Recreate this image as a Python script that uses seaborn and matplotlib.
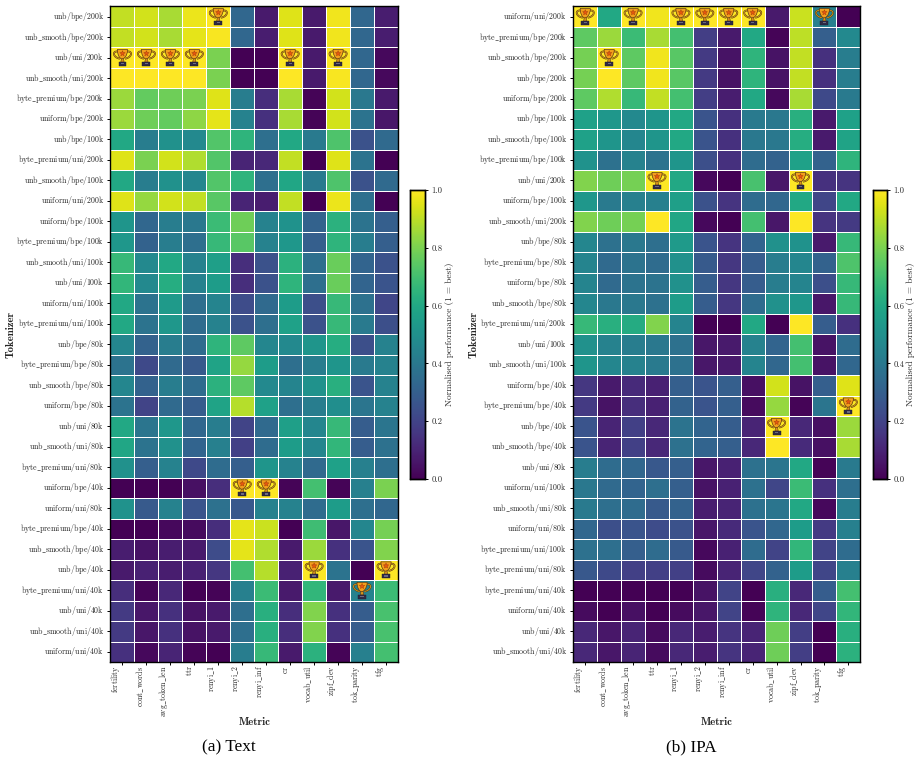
import numpy as np
import pandas as pd
import matplotlib
matplotlib.use("Agg")
import matplotlib.pyplot as plt
import seaborn as sns
from matplotlib.patches import PathPatch, Polygon, Rectangle
from matplotlib.path import Path
from matplotlib.transforms import Affine2D

metrics = ["fertility", "cont_words", "avg_token_len", "ttr", "renyi_1", "renyi_2",
           "renyi_inf", "cr", "vocab_util", "zipf_dev", "tok_parity", "tfg"]

text_tokenizers = [
    "unb/bpe/200k", "unb_smooth/bpe/200k", "unb/uni/200k", "unb_smooth/uni/200k",
    "byte_premium/bpe/200k", "uniform/bpe/200k", "unb/bpe/100k", "byte_premium/uni/200k",
    "unb_smooth/bpe/100k", "uniform/uni/200k", "uniform/bpe/100k", "byte_premium/bpe/100k",
    "unb_smooth/uni/100k", "unb/uni/100k", "uniform/uni/100k", "byte_premium/uni/100k",
    "unb/bpe/80k", "byte_premium/bpe/80k", "unb_smooth/bpe/80k", "uniform/bpe/80k",
    "unb/uni/80k", "unb_smooth/uni/80k", "byte_premium/uni/80k", "uniform/bpe/40k",
    "uniform/uni/80k", "byte_premium/bpe/40k", "unb_smooth/bpe/40k", "unb/bpe/40k",
    "byte_premium/uni/40k", "unb/uni/40k", "unb_smooth/uni/40k", "uniform/uni/40k",
]

text_scores = [
    [.91, .93, .87, .97, 1.0, .33, .07, .95, .07, .98, .33, .08],
    [.91, .93, .87, .96, .99, .33, .08, .95, .07, .98, .33, .08],
    [1.0, 1.0, 1.0, 1.0, .80, .00, .00, 1.0, .07, 1.0, .33, .02],
    [1.0, 1.0, 1.0, 1.0, .80, .00, .00, 1.0, .07, .99, .33, .02],
    [.85, .76, .78, .80, .95, .42, .13, .87, .01, .93, .40, .07],
    [.85, .78, .76, .83, .96, .44, .14, .87, .01, .93, .38, .06],
    [.60, .42, .50, .47, .73, .65, .36, .60, .41, .72, .25, .34],
    [.95, .80, .93, .88, .73, .10, .11, .91, .00, .95, .38, .00],
    [.60, .42, .50, .46, .73, .65, .36, .59, .41, .72, .25, .34],
    [.95, .84, .93, .91, .74, .10, .08, .91, .00, .97, .36, .00],
    [.52, .33, .42, .40, .68, .78, .44, .51, .31, .64, .38, .30],
    [.53, .31, .42, .36, .67, .74, .44, .53, .30, .65, .42, .30],
    [.67, .47, .60, .44, .56, .13, .25, .64, .36, .77, .32, .25],
    [.66, .47, .62, .44, .55, .13, .25, .65, .36, .77, .32, .26],
    [.60, .38, .54, .36, .45, .23, .34, .55, .24, .67, .37, .21],
    [.60, .38, .53, .35, .44, .25, .36, .57, .25, .67, .41, .24],
    [.46, .31, .42, .35, .65, .75, .46, .47, .52, .62, .24, .44],
    [.38, .22, .34, .28, .58, .84, .55, .36, .42, .52, .41, .44],
    [.46, .31, .42, .35, .64, .75, .47, .45, .51, .63, .26, .44],
    [.38, .20, .34, .29, .58, .89, .57, .36, .42, .49, .39, .44],
    [.60, .39, .53, .33, .42, .20, .34, .56, .46, .67, .29, .39],
    [.59, .38, .50, .32, .43, .19, .35, .55, .46, .66, .29, .37],
    [.50, .30, .44, .22, .35, .30, .52, .44, .34, .57, .43, .36],
    [.00, .00, .00, .04, .13, 1.0, 1.0, .01, .70, .01, .43, .80],
    [.51, .28, .44, .26, .37, .27, .44, .44, .35, .55, .36, .33],
    [.00, .00, .02, .03, .13, .96, .92, .00, .69, .06, .46, .79],
    [.08, .05, .08, .07, .23, .96, .88, .07, .85, .14, .26, .81],
    [.07, .09, .08, .09, .16, .70, .89, .09, 1.0, .38, .00, 1.0],
    [.13, .01, .11, .00, .01, .43, .68, .07, .66, .07, .44, .68],
    [.17, .06, .14, .05, .07, .36, .63, .13, .81, .14, .29, .71],
    [.17, .06, .14, .05, .07, .36, .63, .13, .81, .14, .29, .71],
    [.14, .02, .10, .01, .00, .42, .67, .07, .64, .01, .43, .70],
]

text_best = [(0, 4), (2, 0), (2, 1), (2, 2), (2, 3), (2, 7), (2, 9),
             (23, 5), (23, 6), (27, 8), (27, 11), (28, 10)]

ipa_tokenizers = [
    "uniform/uni/200k", "byte_premium/bpe/200k", "unb_smooth/bpe/200k", "unb/bpe/200k",
    "uniform/bpe/200k", "unb/bpe/100k", "unb_smooth/bpe/100k", "byte_premium/bpe/100k",
    "unb/uni/200k", "uniform/bpe/100k", "unb_smooth/uni/200k", "unb/bpe/80k",
    "byte_premium/bpe/80k", "uniform/bpe/80k", "unb_smooth/bpe/80k", "byte_premium/uni/200k",
    "unb/uni/100k", "unb_smooth/uni/100k", "uniform/bpe/40k", "byte_premium/bpe/40k",
    "unb/bpe/40k", "unb_smooth/bpe/40k", "unb/uni/80k", "uniform/uni/100k",
    "unb_smooth/uni/80k", "uniform/uni/80k", "byte_premium/uni/100k", "byte_premium/uni/80k",
    "byte_premium/uni/40k", "uniform/uni/40k", "unb/uni/40k", "unb_smooth/uni/40k",
]

ipa_scores = [
    [1.0, .60, 1.0, .98, 1.0, 1.0, 1.0, 1.0, .07, .92, .43, .00],
    [.75, .85, .68, .87, .70, .18, .07, .60, .01, .90, .30, .47],
    [.79, 1.0, .75, .98, .74, .17, .05, .65, .05, .91, .14, .42],
    [.79, 1.0, .75, .98, .74, .17, .05, .65, .05, .91, .14, .42],
    [.75, .88, .67, .91, .70, .18, .08, .60, .02, .87, .22, .41],
    [.57, .53, .47, .52, .60, .26, .14, .41, .40, .63, .07, .57],
    [.57, .52, .46, .52, .60, .26, .14, .40, .40, .62, .07, .58],
    [.51, .37, .44, .38, .52, .24, .14, .35, .31, .57, .31, .65],
    [.81, .78, .79, 1.0, .60, .02, .00, .71, .06, 1.0, .14, .15],
    [.53, .41, .43, .43, .56, .25, .15, .35, .33, .60, .21, .60],
    [.81, .78, .79, 1.0, .59, .02, .00, .70, .06, 1.0, .15, .17],
    [.46, .37, .40, .36, .54, .26, .15, .32, .50, .51, .07, .67],
    [.45, .34, .38, .35, .50, .28, .16, .29, .42, .46, .31, .72],
    [.45, .34, .38, .38, .50, .29, .16, .29, .42, .45, .24, .67],
    [.46, .40, .40, .37, .55, .29, .16, .35, .50, .53, .06, .67],
    [.67, .63, .61, .81, .45, .00, .00, .60, .00, 1.0, .29, .14],
    [.50, .44, .42, .40, .37, .06, .07, .44, .32, .70, .05, .35],
    [.52, .46, .44, .41, .37, .06, .07, .45, .33, .70, .05, .33],
    [.16, .07, .12, .09, .30, .26, .30, .04, .93, .05, .30, .95],
    [.17, .05, .13, .09, .31, .26, .30, .03, .84, .01, .39, 1.0],
    [.26, .10, .19, .11, .38, .32, .29, .10, 1.0, .11, .04, .85],
    [.26, .10, .19, .11, .37, .32, .30, .11, 1.0, .12, .04, .87],
    [.42, .35, .33, .27, .30, .06, .09, .37, .39, .60, .01, .41],
    [.40, .34, .32, .36, .30, .05, .09, .37, .21, .68, .14, .36],
    [.41, .36, .35, .28, .31, .08, .10, .37, .39, .60, .02, .42],
    [.33, .24, .26, .23, .25, .06, .12, .26, .33, .55, .17, .43],
    [.37, .36, .30, .35, .28, .02, .09, .35, .20, .66, .20, .35],
    [.27, .22, .19, .19, .19, .03, .10, .21, .31, .55, .21, .43],
    [.00, .00, .00, .00, .00, .05, .20, .00, .63, .11, .29, .70],
    [.03, .00, .04, .00, .03, .06, .20, .01, .65, .11, .21, .66],
    [.11, .06, .10, .03, .11, .08, .15, .10, .78, .18, .00, .63],
    [.11, .06, .10, .03, .11, .08, .15, .10, .78, .18, .00, .64],
]

ipa_best = [(0, 0), (0, 2), (0, 4), (0, 5), (0, 6), (0, 7), (0, 10), (2, 1),
            (8, 3), (8, 9), (19, 11), (20, 8)]

captions = ["(a) Text", "(b) IPA"]

BODY_FONT = ["cmr10", "DejaVu Serif"]
BOLD_FONT = ["cmb10", "DejaVu Serif"]

sns.set_theme(style="white")
plt.rcParams["mathtext.fontset"] = "cm"
plt.rcParams["axes.formatter.use_mathtext"] = True
plt.rcParams["axes.unicode_minus"] = False


def roman(name):
    """Typeset a label in Computer Modern, keeping its underscores."""
    return r"$\mathrm{" + name.replace("_", r"\_") + "}$"


def draw_trophy(ax, col, row):
    """Draw a small trophy icon centred on one heatmap cell."""
    tf = Affine2D().scale(0.345, 0.41).translate(col + 0.5, row + 0.5) + ax.transData
    dark = "#5a3a12"
    # handles on both sides of the cup
    for sign in (-1, 1):
        handle = Path(
            [(sign * 0.55, -0.72), (sign * 1.3, -0.8), (sign * 1.15, 0.0), (sign * 0.3, 0.14)],
            [Path.MOVETO, Path.CURVE4, Path.CURVE4, Path.CURVE4],
        )
        ax.add_patch(PathPatch(handle, fc="none", ec=dark, lw=1.3, transform=tf, zorder=4))
        ax.add_patch(PathPatch(handle, fc="none", ec="#d9a21b", lw=0.55, transform=tf, zorder=5))
    # cup bowl
    bowl = Path(
        [(-0.62, -0.95), (0.62, -0.95), (0.6, -0.1), (0.1, 0.2), (-0.1, 0.2), (-0.6, -0.1), (-0.62, -0.95)],
        [Path.MOVETO, Path.LINETO, Path.CURVE4, Path.CURVE4, Path.LINETO, Path.CURVE3, Path.CURVE3],
    )
    ax.add_patch(PathPatch(bowl, fc="#f29f1c", ec=dark, lw=0.5, transform=tf, zorder=6))
    # stem
    ax.add_patch(Polygon([(-0.13, 0.15), (0.13, 0.15), (0.2, 0.55), (-0.2, 0.55)], fc="#d9921b",
                         ec=dark, lw=0.4, transform=tf, zorder=6))
    # pedestal
    ax.add_patch(Rectangle((-0.48, 0.52), 0.96, 0.46, fc="#2f2a45", ec="#1e1b2e", lw=0.3,
                           transform=tf, zorder=6))
    ax.add_patch(Rectangle((-0.2, 0.66), 0.4, 0.14, fc="#6c6a80", ec="none", transform=tf, zorder=7))
    # star on the bowl
    angles = np.deg2rad(np.arange(10) * 36 - 90)
    radii = np.where(np.arange(10) % 2 == 0, 0.34, 0.15)
    star = np.column_stack([radii * np.cos(angles), radii * np.sin(angles) - 0.48])
    ax.add_patch(Polygon(star, fc="#e8570f", ec="#9c3a0a", lw=0.3, transform=tf, zorder=7))


def draw_panel(fig, rect, cbar_rect, tokenizers, scores, best, caption, caption_x):
    ax = fig.add_axes(rect)
    cax = fig.add_axes(cbar_rect)
    table = pd.DataFrame(scores, index=tokenizers, columns=metrics)
    sns.heatmap(table, ax=ax, cbar_ax=cax, cmap="viridis", vmin=0, vmax=1,
                linewidths=0.6, linecolor="white", xticklabels=True, yticklabels=True)

    ax.set_xticklabels([roman(m) for m in metrics], rotation=90, ha="right", fontsize=5.7)
    ax.set_yticklabels([roman(t) for t in tokenizers], rotation=0, fontsize=5.7)
    ax.tick_params(axis="y", length=2.5, width=0.7, color="black", pad=2, left=True)
    ax.tick_params(axis="x", length=2.5, width=0.7, color="black", pad=0, bottom=True)

    ax.set_xlabel("Metric", fontsize=7.8, family=BOLD_FONT, va="center")
    ax.set_ylabel("Tokenizer", fontsize=7.8, family=BOLD_FONT, va="center")
    ax.xaxis.set_label_coords(0.5, -0.091)
    ax.yaxis.set_label_coords(-0.347, 0.5)
    for spine in ax.spines.values():
        spine.set_visible(True)
        spine.set_color("black")
        spine.set_linewidth(1.0)

    cax.tick_params(length=2.5, width=0.7, color="black", pad=2, right=True, labelsize=5.8)
    cax.set_yticks([0, 0.2, 0.4, 0.6, 0.8, 1.0])
    cax.set_yticklabels(["0.0", "0.2", "0.4", "0.6", "0.8", "1.0"], family=BODY_FONT, fontsize=6.2)
    cax.set_ylabel("Normalised performance (1 = best)", fontsize=6.7, family=BODY_FONT, va="center")
    cax.yaxis.set_label_coords(2.58, 0.5)
    for spine in cax.spines.values():
        spine.set_visible(True)
        spine.set_color("black")
        spine.set_linewidth(1.0)

    for row, col in best:
        draw_trophy(ax, col, row)

    fig.text(caption_x, 1 - 747 / 762, caption, ha="center", va="center", fontsize=12.4,
             family="Liberation Serif", color="black")


W, H = 920, 762
fig = plt.figure(figsize=(W / 100, H / 100), dpi=100, facecolor="white")


def frac(x0, y0, x1, y1):
    return [x0 / W, 1 - y1 / H, (x1 - x0) / W, (y1 - y0) / H]


draw_panel(fig, frac(110.5, 6.3, 398, 662), frac(410.5, 190, 425.5, 479),
           text_tokenizers, text_scores, text_best, captions[0], 229 / W)
draw_panel(fig, frac(573.3, 6.3, 860.3, 662), frac(873, 190, 887.5, 479),
           ipa_tokenizers, ipa_scores, ipa_best, captions[1], 691 / W)

fig.savefig("out.png", dpi=100, facecolor="white")
